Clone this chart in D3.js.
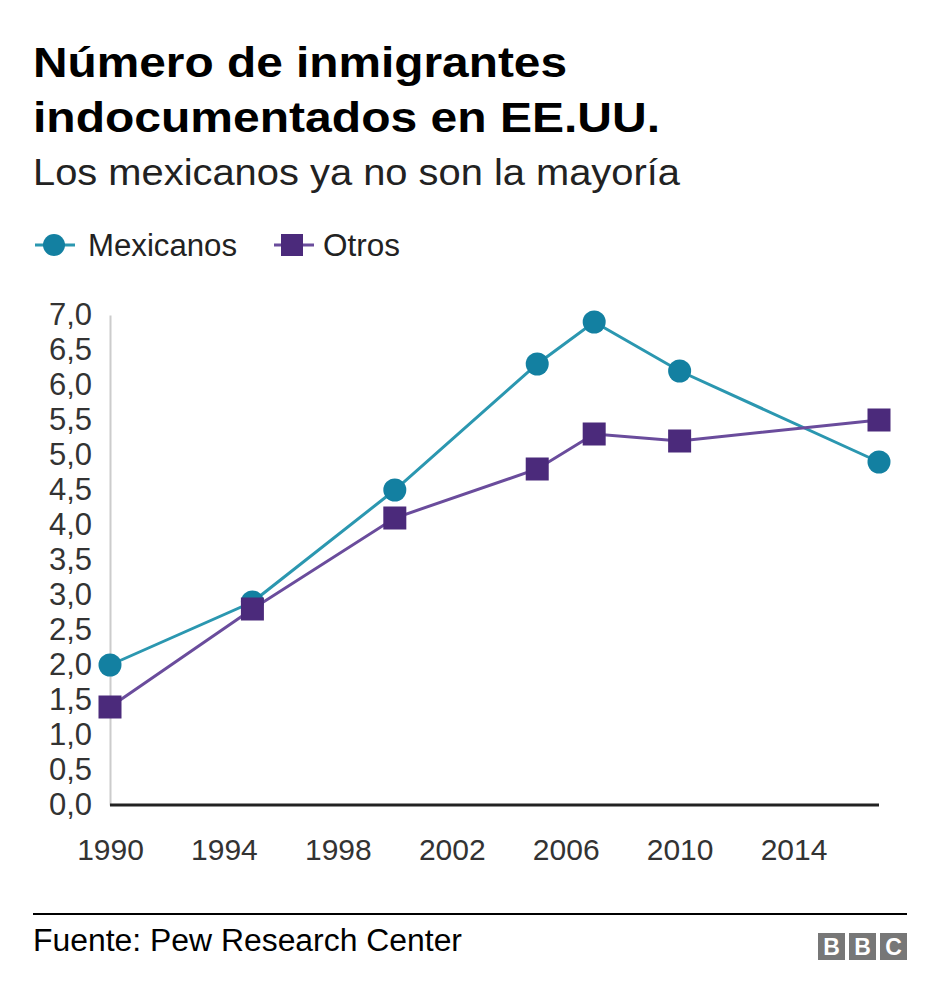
<!DOCTYPE html>
<html><head><meta charset="utf-8">
<script src="https://cdn.jsdelivr.net/npm/d3@7"></script>
<style>body{margin:0;background:#fff;font-family:"Liberation Sans",Arial,sans-serif;}</style>
</head><body>
<svg id="c" width="940" height="1002"></svg>
<script>
const years = [1990, 1995, 2000, 2005, 2007, 2010, 2017];
const mexicanos = [2.0, 2.9, 4.5, 6.3, 6.9, 6.2, 4.9];
const otros = [1.4, 2.8, 4.1, 4.8, 5.3, 5.2, 5.5];
const yTicks = [0, 0.5, 1, 1.5, 2, 2.5, 3, 3.5, 4, 4.5, 5, 5.5, 6, 6.5, 7];
const xTicks = [1990, 1994, 1998, 2002, 2006, 2010, 2014];
const seriesNames = ["Mexicanos", "Otros"];
const colors = {Mexicanos: "#1380A1", Otros: "#4B2A7B"};
const lineColors = {Mexicanos: "#2B97B0", Otros: "#6A4C9C"};

const svg = d3.select("#c");
const font = '"Liberation Sans",Arial,sans-serif';

function txt(xp, yp, size, str, len, opts = {}) {
  const t = svg.append("text").attr("x", xp).attr("y", yp).attr("font-size", size)
    .attr("font-family", font).attr("fill", opts.fill || "#000").text(str);
  if (opts.bold) t.attr("font-weight", "bold");
  if (len) t.attr("textLength", len).attr("lengthAdjust", "spacingAndGlyphs");
  return t;
}

txt(33, 77, 43, "Número de inmigrantes", 534, {bold: true});
txt(33, 132, 43, "indocumentados en EE.UU.", 627, {bold: true});
txt(33, 185, 37, "Los mexicanos ya no son la mayoría", 647, {fill: "#222"});

const x = d3.scaleLinear().domain([1990, 2017]).range([110, 879]);
const y = d3.scaleLinear().domain([0, 7]).range([805, 315]);

// legend
const legX = [33, 272];
const legLen = [149, 77];
seriesNames.forEach((s, i) => {
  const g = svg.append("g").attr("transform", `translate(${legX[i]},245)`);
  g.append("line").attr("x1", 2).attr("x2", 42).attr("y1", 0).attr("y2", 0).attr("stroke", lineColors[s]).attr("stroke-width", 3);
  if (s === "Mexicanos") g.append("circle").attr("cx", 21).attr("cy", 0).attr("r", 11).attr("fill", colors[s]);
  else g.append("rect").attr("x", 9).attr("y", -11).attr("width", 22).attr("height", 22).attr("fill", colors[s]);
  g.append("text").attr("x", i === 0 ? 55 : 51).attr("y", 11).attr("font-size", 31).attr("fill", "#222")
    .attr("font-family", font).attr("textLength", legLen[i]).attr("lengthAdjust", "spacingAndGlyphs").text(s);
});

// y axis
const yAxis = svg.append("g").attr("transform", "translate(110,0)")
  .call(d3.axisLeft(y).tickValues(yTicks).tickSize(0).tickPadding(18).tickFormat(d => d.toFixed(1).replace(".", ",")));
yAxis.select(".domain").attr("stroke", "#ccc").attr("stroke-width", 2);
yAxis.selectAll("text").attr("font-size", 31).attr("fill", "#333").attr("font-family", font);

// x axis
const xAxis = svg.append("g").attr("transform", "translate(0,805)")
  .call(d3.axisBottom(x).tickValues(xTicks).tickSize(0).tickPadding(34).tickFormat(d3.format("d")));
xAxis.select(".domain").remove();
xAxis.selectAll("text").attr("font-size", 30).attr("fill", "#333").attr("font-family", font);
svg.append("line").attr("x1", x(1990)).attr("x2", x(2017)).attr("y1", y(0)).attr("y2", y(0)).attr("stroke", "#222").attr("stroke-width", 3);

const data = {Mexicanos: mexicanos, Otros: otros};
const line = d3.line().x(d => x(d[0])).y(d => y(d[1]));
seriesNames.forEach(s => {
  const pts = years.map((yr, i) => [yr, data[s][i]]);
  svg.append("path").datum(pts).attr("d", line).attr("fill", "none").attr("stroke", lineColors[s]).attr("stroke-width", 3);
});
seriesNames.forEach(s => {
  const pts = years.map((yr, i) => [yr, data[s][i]]);
  if (s === "Mexicanos") {
    svg.selectAll(null).data(pts).enter().append("circle").attr("cx", d => x(d[0])).attr("cy", d => y(d[1])).attr("r", 11.5).attr("fill", colors[s]);
  } else {
    svg.selectAll(null).data(pts).enter().append("rect").attr("x", d => x(d[0]) - 11.5).attr("y", d => y(d[1]) - 11.5).attr("width", 23).attr("height", 23).attr("fill", colors[s]);
  }
});

// footer
svg.append("line").attr("x1", 33).attr("x2", 907).attr("y1", 914).attr("y2", 914).attr("stroke", "#000").attr("stroke-width", 2);
txt(33, 951, 31, "Fuente: Pew Research Center", 429, {fill: "#000"});
const bbc = svg.append("g").attr("transform", "translate(818,933)");
["B", "B", "C"].forEach((l, i) => {
  bbc.append("rect").attr("x", i * 31).attr("y", 0).attr("width", 27).attr("height", 27).attr("fill", "#777");
  bbc.append("text").attr("x", i * 31 + 13.5).attr("y", 22).attr("text-anchor", "middle").attr("font-size", 23).attr("font-weight", "bold").attr("fill", "#fff").attr("font-family", font).text(l);
});
</script>
</body></html>
